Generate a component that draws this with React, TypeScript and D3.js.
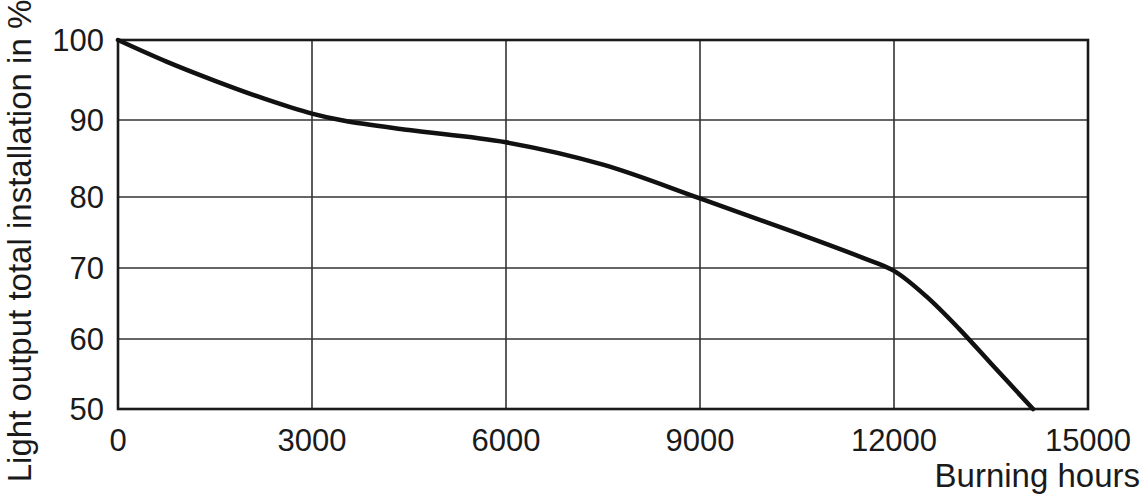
import React, { useEffect, useRef } from 'react';
import * as d3 from 'd3';

// burning hours vs. light output (%)
const hours = [0, 750, 1500, 2250, 3000, 3500, 4500, 6000, 7500, 9000, 10500, 11500, 12000, 12500, 13000, 13500, 14150];
const output = [100, 97.3, 94.9, 92.7, 90.8, 89.9, 88.7, 87.1, 84.2, 79.8, 74.9, 71.5, 69.6, 66, 61.5, 56.5, 50];

const xTicks = [0, 3000, 6000, 9000, 12000, 15000];
const yTicks = [50, 60, 70, 80, 90, 100];

const W = 1144;
const H = 500;

const App: React.FC = () => {
  const ref = useRef<SVGSVGElement | null>(null);

  useEffect(() => {
    if (!ref.current) return;
    const svg = d3.select(ref.current);
    svg.selectAll('*').remove();

    const x = d3.scaleLinear().domain([0, 15000]).range([118, 1088]);
    // the printed grid is slightly uneven, so map each gridline
    const y = d3.scaleLinear().domain(yTicks).range([409, 339, 268, 197, 120, 40]);

    const font = "'Liberation Sans', Arial, sans-serif";

    // grid
    svg.append('g')
      .selectAll('line')
      .data(xTicks.slice(1, -1))
      .enter()
      .append('line')
      .attr('x1', d => x(d)).attr('x2', d => x(d))
      .attr('y1', y(100)).attr('y2', y(50))
      .attr('stroke', '#333').attr('stroke-width', 1.6);

    svg.append('g')
      .selectAll('line')
      .data(yTicks.slice(1, -1))
      .enter()
      .append('line')
      .attr('x1', x(0)).attr('x2', x(15000))
      .attr('y1', d => y(d)).attr('y2', d => y(d))
      .attr('stroke', '#333').attr('stroke-width', 1.6);

    // frame
    svg.append('rect')
      .attr('x', x(0)).attr('y', y(100))
      .attr('width', x(15000) - x(0)).attr('height', y(50) - y(100))
      .attr('fill', 'none').attr('stroke', '#1a1a1a').attr('stroke-width', 2.6);

    // curve
    const pts = hours.map((h, i) => [h, output[i]] as [number, number]);
    const line = d3.line<[number, number]>()
      .x(d => x(d[0]))
      .y(d => y(d[1]))
      .curve(d3.curveCatmullRom.alpha(0.5));
    svg.append('path')
      .datum(pts)
      .attr('d', line)
      .attr('fill', 'none')
      .attr('stroke', '#111')
      .attr('stroke-width', 4.5)
      .attr('stroke-linecap', 'round');

    // y tick labels
    svg.append('g')
      .selectAll('text')
      .data(yTicks)
      .enter()
      .append('text')
      .attr('x', 104)
      .attr('y', d => y(d) + 10.5)
      .attr('text-anchor', 'end')
      .attr('font-family', font)
      .attr('font-size', 31)
      .attr('fill', '#1a1a1a')
      .text(d => d);

    // x tick labels
    svg.append('g')
      .selectAll('text')
      .data(xTicks)
      .enter()
      .append('text')
      .attr('x', d => x(d))
      .attr('y', 451)
      .attr('text-anchor', 'middle')
      .attr('font-family', font)
      .attr('font-size', 31)
      .attr('fill', '#1a1a1a')
      .text(d => d);

    // axis titles
    svg.append('text')
      .attr('x', 1140)
      .attr('y', 487)
      .attr('text-anchor', 'end')
      .attr('font-family', font)
      .attr('font-size', 33)
      .attr('fill', '#1a1a1a')
      .text('Burning hours');

    svg.append('text')
      .attr('transform', 'translate(31,241) rotate(-90)')
      .attr('text-anchor', 'middle')
      .attr('font-family', font)
      .attr('font-size', 33)
      .attr('fill', '#1a1a1a')
      .text('Light output total installation in %');
  }, []);

  return (
    <svg
      ref={ref}
      width={W}
      height={H}
      style={{ position: 'absolute', left: 0, top: 0, background: '#fff' }}
    />
  );
};

export default App;
